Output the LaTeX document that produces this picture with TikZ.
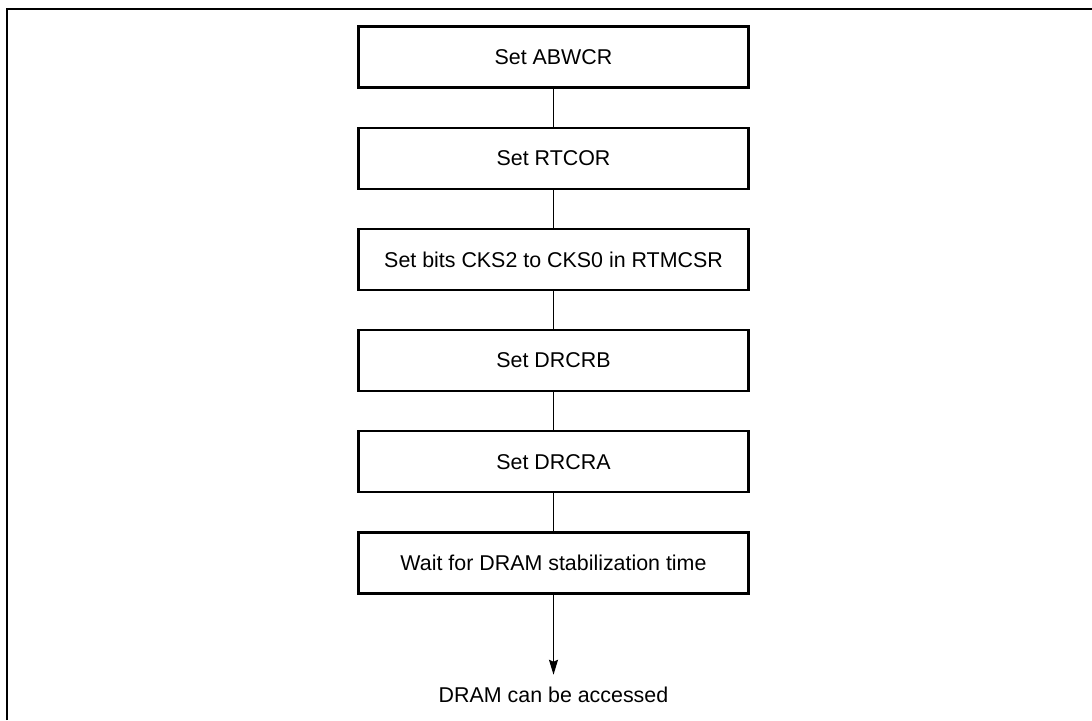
\documentclass[tikz,border=0pt]{standalone}
\usepackage{fontspec}
\setmainfont{Liberation Sans}
\usetikzlibrary{positioning, arrows.meta}

\begin{document}
\begin{tikzpicture}[x=0.5pt, y=-0.5pt, node distance=50.6pt, font=\fontsize{10.7}{12}\selectfont]
    \tikzstyle{block} = [rectangle, draw=black, line width=1.1pt, minimum width=195pt, minimum height=30.5pt, text centered]
    \tikzstyle{line} = [line width=0.6pt]
    \tikzstyle{arrow} = [line width=0.6pt, -{Stealth[length=7.5pt, width=4.5pt, inset=1pt]}]

    \useasboundingbox (0,0) rectangle (1092,720);
    % frame
    \draw [line width=1.1pt] (7,720) -- (7,9) -- (1092,9);

    \node [block] (abwcr) at (553.5,57) {Set ABWCR};
    \node [block, below of=abwcr] (rtcor) {Set RTCOR};
    \node [block, below of=rtcor] (cks) {Set bits CKS2 to CKS0 in RTMCSR};
    \node [block, below of=cks] (drcrb) {Set DRCRB};
    \node [block, below of=drcrb] (drcra) {Set DRCRA};
    \node [block, below of=drcra] (wait) {Wait for DRAM stabilization time};
    \node [inner sep=1pt] (done) at (553.5,695) {DRAM can be accessed};

    \draw [line] (abwcr) -- (rtcor);
    \draw [line] (rtcor) -- (cks);
    \draw [line] (cks) -- (drcrb);
    \draw [line] (drcrb) -- (drcra);
    \draw [line] (drcra) -- (wait);
    \draw [arrow, shorten >=5pt] (wait) -- (done);
\end{tikzpicture}
\end{document}
